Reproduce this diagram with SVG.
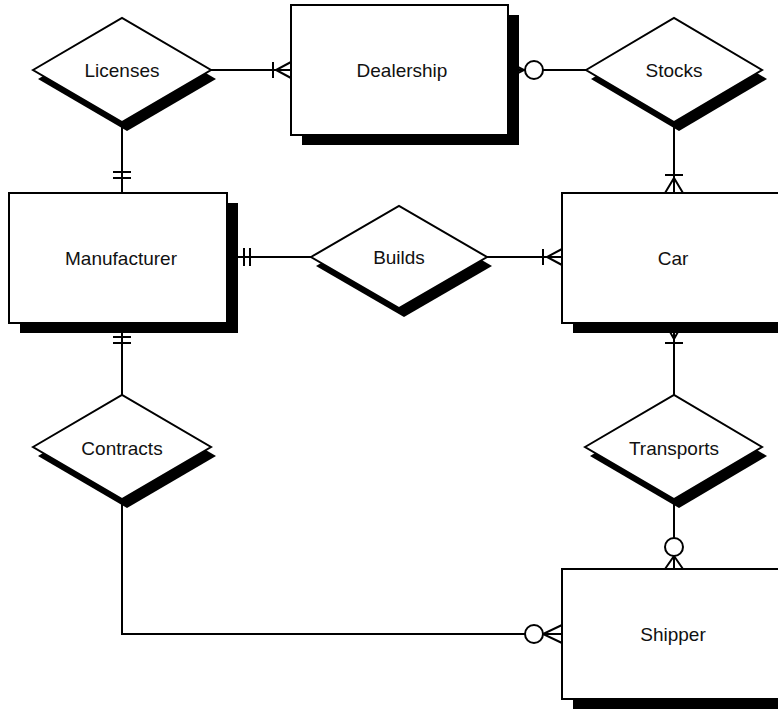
<svg xmlns="http://www.w3.org/2000/svg" width="778" height="709" viewBox="0 0 778 709">
<style>
.ln{fill:none;stroke:#000;stroke-width:2}
.circ{fill:#fff;stroke:#000;stroke-width:2}
.box{fill:#fff;stroke:#000;stroke-width:2}
.sh{fill:#000;stroke:none}
.lbl{font-family:"Liberation Sans",Arial,sans-serif;font-size:19px;fill:#111;text-anchor:middle;dominant-baseline:central}
</style>
<rect width="778" height="709" fill="#fff"/>
<g id="connectors">
  <!-- Licenses - Dealership -->
  <path class="ln" d="M211,70H291M273,62V78M291,62L276,70L291,78"/>
  <!-- Licenses - Manufacturer -->
  <path class="ln" d="M122,122V193M113,172H131M113,178H131"/>
  <!-- Dealership - Stocks -->
  <path class="ln" d="M508,70H586M508,62L524,70L508,78"/>
  <circle class="circ" cx="534" cy="70" r="9"/>
  <!-- Stocks - Car -->
  <path class="ln" d="M674,122V193M665,175H683M665,193L674,178L683,193"/>
  <!-- Manufacturer - Builds -->
  <path class="ln" d="M227,257H311M244,248V266M250,248V266"/>
  <!-- Builds - Car -->
  <path class="ln" d="M487,257H562M543,249V265M562,249L547,257L562,265"/>
  <!-- Manufacturer - Contracts -->
  <path class="ln" d="M122,323V395M113,337H131M113,343H131"/>
  <!-- Car - Transports -->
  <path class="ln" d="M674,323V395M665,343H683M665,323L674,339L683,323"/>
  <!-- Transports - Shipper -->
  <path class="ln" d="M674,499V569M665,569L674,556L683,569"/>
  <circle class="circ" cx="674" cy="547" r="9"/>
  <!-- Contracts - Shipper -->
  <path class="ln" d="M122,499V634H562M562,625L543,634L562,643"/>
  <circle class="circ" cx="534" cy="634" r="9"/>
</g>
<g id="licenses">
  <polygon class="sh" points="38,79 127,27 216,79 127,131"/>
  <polygon class="box" points="33,70 122,18 211,70 122,122"/>
  <text class="lbl" x="122" y="70">Licenses</text>
</g>
<g id="dealership">
  <rect class="sh" x="302" y="15" width="217" height="130"/>
  <rect class="box" x="291" y="5" width="217" height="130"/>
  <text class="lbl" x="402" y="70">Dealership</text>
</g>
<g id="stocks">
  <polygon class="sh" points="591,79 679,27 767,79 679,131"/>
  <polygon class="box" points="586,70 674,18 762,70 674,122"/>
  <text class="lbl" x="674" y="70">Stocks</text>
</g>
<g id="manufacturer">
  <rect class="sh" x="20" y="203" width="218" height="130"/>
  <rect class="box" x="9" y="193" width="218" height="130"/>
  <text class="lbl" x="121" y="258">Manufacturer</text>
</g>
<g id="builds">
  <polygon class="sh" points="316,266 404,215 492,266 404,317"/>
  <polygon class="box" points="311,257 399,206 487,257 399,308"/>
  <text class="lbl" x="399" y="257">Builds</text>
</g>
<g id="car">
  <rect class="sh" x="573" y="203" width="218" height="130"/>
  <rect class="box" x="562" y="193" width="218" height="130"/>
  <text class="lbl" x="673" y="258">Car</text>
</g>
<g id="contracts">
  <polygon class="sh" points="38,456 127,404 216,456 127,508"/>
  <polygon class="box" points="33,447 122,395 211,447 122,499"/>
  <text class="lbl" x="122" y="448">Contracts</text>
</g>
<g id="transports">
  <polygon class="sh" points="590,456 679,404 767,456 679,508"/>
  <polygon class="box" points="585,447 674,395 762,447 674,499"/>
  <text class="lbl" x="674" y="448">Transports</text>
</g>
<g id="shipper">
  <rect class="sh" x="573" y="579" width="218" height="130"/>
  <rect class="box" x="562" y="569" width="218" height="130"/>
  <text class="lbl" x="673" y="634">Shipper</text>
</g>
</svg>
